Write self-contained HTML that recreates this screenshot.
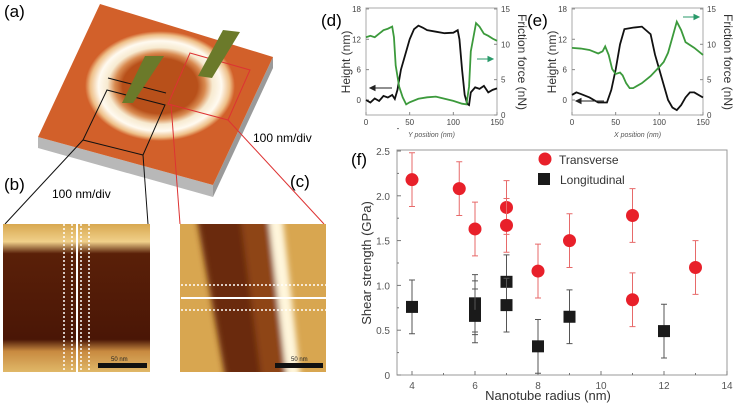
<!DOCTYPE html>
<html><head><meta charset="utf-8">
<style>
html,body{margin:0;padding:0;background:#fff;}
svg{display:block;font-family:"Liberation Sans",sans-serif;}
</style></head>
<body>
<svg id="fig" width="738" height="403" viewBox="0 0 738 403">
<defs>
<radialGradient id="ringG" cx="0.5" cy="0.5" r="0.5">
<stop offset="0.5" stop-color="#b8501a"/>
<stop offset="0.6" stop-color="#d88a50"/>
<stop offset="0.7" stop-color="#f7ead0"/>
<stop offset="0.82" stop-color="#fffaf0"/>
<stop offset="0.93" stop-color="#eebf88"/>
<stop offset="1" stop-color="#d2602a"/>
</radialGradient>
<linearGradient id="bandB" x1="0" y1="0" x2="0" y2="1">
<stop offset="0" stop-color="#d8a850"/><stop offset="0.12" stop-color="#f0d08a"/>
<stop offset="0.2" stop-color="#5a2008"/><stop offset="0.78" stop-color="#4a1606"/>
<stop offset="0.86" stop-color="#c88a40"/><stop offset="1" stop-color="#e0b868"/>
</linearGradient>
<clipPath id="clipC"><rect x="180" y="224" width="146" height="148"/></clipPath>
<filter id="blurC" x="-10%" y="-10%" width="120%" height="120%"><feGaussianBlur stdDeviation="3"/></filter>
</defs>

<!-- panel a -->
<g>
<text x="4" y="17" font-size="17">(a)</text>
<polygon points="38,137 213,185 213,197 38,148" fill="#b8b8b8"/>
<polygon points="213,185 273,57 273,68 213,197" fill="#9a9a9a"/>
<polygon points="100,4 273,57 213,185 38,137" fill="#d2602a"/>
<ellipse cx="160" cy="86" rx="75" ry="55" fill="url(#ringG)"/>
<polygon points="107,90 165,105 143,155 83,140" fill="none" stroke="#111" stroke-width="1"/>
<line x1="83" y1="140" x2="5" y2="224" stroke="#111" stroke-width="1"/>
<line x1="143" y1="155" x2="148" y2="224" stroke="#111" stroke-width="1"/>
<polygon points="190,53 250,70 228,120 168,104" fill="none" stroke="#d33" stroke-width="1"/>
<line x1="171" y1="104" x2="180" y2="224" stroke="#d33" stroke-width="1"/>
<line x1="228" y1="120" x2="324" y2="224" stroke="#d33" stroke-width="1"/>
<line x1="108" y1="78" x2="166" y2="93" stroke="#111" stroke-width="1"/>
<polygon points="145,56 164,56 133,103 122,103" fill="#6b7a2a"/>
<polygon points="223,30 240,32 212,78 198,76" fill="#6b7a2a"/>
<text x="52" y="198" font-size="12">100 nm/div</text>
<text x="253" y="142" font-size="12">100 nm/div</text>
<text x="4" y="190" font-size="17">(b)</text>
<text x="290" y="187" font-size="17">(c)</text>
</g>

<!-- panel b -->
<g>
<rect x="3" y="224" width="147" height="148" fill="url(#bandB)"/>
<line x1="64" y1="224" x2="64" y2="372" stroke="#fff" stroke-width="1.5" stroke-dasharray="2,2"/>
<line x1="72" y1="224" x2="72" y2="372" stroke="#fff" stroke-width="1.5" stroke-dasharray="2,2"/>
<line x1="77" y1="224" x2="77" y2="372" stroke="#fff" stroke-width="2"/>
<line x1="81" y1="224" x2="81" y2="372" stroke="#fff" stroke-width="1.5" stroke-dasharray="2,2"/>
<line x1="89" y1="224" x2="89" y2="372" stroke="#fff" stroke-width="1.5" stroke-dasharray="2,2"/>
<rect x="98" y="363" width="49" height="5" fill="#111"/>
<text x="111" y="361" font-size="6" fill="#222">50 nm</text>
</g>

<!-- panel c -->
<g>
<g clip-path="url(#clipC)">
<rect x="180" y="224" width="146" height="148" fill="#d8a650"/>
<g filter="url(#blurC)">
<polygon points="196,214 272,214 290,382 226,382" fill="#6a2a0c"/>
<polygon points="240,214 272,214 290,382 262,382" fill="#8e4418"/>
<polygon points="268,214 282,214 301,382 287,382" fill="#fff6dc"/>
</g>
</g>
<line x1="181" y1="285" x2="326" y2="285" stroke="#fff" stroke-width="1.5" stroke-dasharray="2,2"/>
<line x1="181" y1="298" x2="326" y2="298" stroke="#fff" stroke-width="2"/>
<line x1="181" y1="310" x2="326" y2="310" stroke="#fff" stroke-width="1.5" stroke-dasharray="2,2"/>
<rect x="275" y="363" width="48" height="5" fill="#111"/>
<text x="291" y="361" font-size="6" fill="#222">50 nm</text>
</g>

<g id="gd"></g>
<g id="ge"></g>
<g id="gf"></g>
</svg>

<script>
// panel f data
const transRadius = [4, 5.5, 6, 7, 7, 8, 9, 11, 11, 13];
const transStrength = [2.18, 2.08, 1.63, 1.87, 1.67, 1.16, 1.50, 1.78, 0.84, 1.20];
const transErr = [0.3, 0.3, 0.3, 0.3, 0.3, 0.3, 0.3, 0.3, 0.3, 0.3];
const longRadius = [4, 6, 6, 6, 7, 7, 8, 9, 12];
const longStrength = [0.76, 0.80, 0.75, 0.66, 1.04, 0.78, 0.32, 0.65, 0.49];
const longErr = [0.3, 0.32, 0.3, 0.3, 0.3, 0.3, 0.3, 0.3, 0.3];
const fYTicks = ["0", "0.5", "1.0", "1.5", "2.0", "2.5"];
const fXTicks = ["4", "6", "8", "10", "12", "14"];
// panel d data
const dHeightX = [0,5,10,15,20,25,30,33,36,40,45,50,55,60,65,70,80,90,100,105,107,110,113,116,118,120,125,130,135,140,145,150];
const dHeightY = [0,-0.5,0.3,-0.2,0.8,0.5,1,0.2,2,6,9,12,14,14.7,14.3,13.8,13.5,13.2,13.3,13.8,12,6,1,-0.8,-1,1.5,2.5,2.2,2.8,1.5,2,2.3];
const dFricX = [0,5,10,15,20,25,30,32,34,38,42,46,50,60,70,80,90,100,110,115,118,120,123,126,130,135,140,145,150];
const dFricY = [11,11.2,11,11.5,12,12.2,12.5,11,7,4,2.5,1.5,1.8,2.3,2.5,2.6,2.3,2.0,1.6,1.5,4,9,11,13,12.5,11.5,11.2,10.8,10.5];
// panel e data
const eHeightX = [0,5,10,20,30,40,45,50,55,60,70,80,90,95,100,105,110,115,120,125,130,135,140,150];
const eHeightY = [1,1.5,1.2,0.5,-0.5,-0.5,2,6,11,14,14.3,14.5,13,9,6,3,0,-1.5,-2,-1,0.5,1.5,1.5,0.5];
const eFricX = [0,10,20,30,35,38,42,46,50,55,58,62,66,70,80,90,100,105,110,115,120,125,130,140,150];
const eFricY = [9.5,9.4,9.2,8.7,9,9.7,8.5,6.5,5.8,6,5.6,4.5,3.8,3.8,4.5,5.5,6.8,7.5,8.8,11,13.2,12,10.3,9.5,8.5];
const dHeightTicks = ["0","6","12","18"];
const dFricTicks = ["0","5","10","15"];
const dXTicks = ["0","50","100","150"];

const NS = "http://www.w3.org/2000/svg";
function mk(parent, tag, attrs, text) {
  const el = document.createElementNS(NS, tag);
  for (const k in attrs) el.setAttribute(k, attrs[k]);
  if (text !== undefined) el.textContent = text;
  parent.appendChild(el);
  return el;
}

// ---- panel f
(function(){
  const g = document.getElementById('gf');
  const L = 397, R = 727, T = 150, B = 375;
  const fx = r => 412 + (r - 4) * 31.5;
  const fy = v => B - v * 89.6;
  const t = mk(g, 'text', {x: 351, y: 165, 'font-size': 17}, '(f)');
  
  
  const box = mk(g, 'rect', {x: L, y: T, width: R - L, height: B - T, fill: 'none', stroke: '#999', 'stroke-width': 1});
  
  
  fYTicks.forEach((lab) => {
    const y = fy(parseFloat(lab));
    mk(g, 'line', {x1: L, x2: L + 4, y1: y, y2: y, stroke: '#777'});
    mk(g, 'line', {x1: L, x2: L + 2, y1: fy(parseFloat(lab) + 0.25), y2: fy(parseFloat(lab) + 0.25), stroke: '#777'});
    const tl = mk(g, 'text', {x: 390, y: y + 4, 'font-size': 10, 'text-anchor': 'end', fill: '#555'}, lab);
    
    
  });
  fXTicks.forEach((lab) => {
    const x = fx(parseFloat(lab));
    mk(g, 'line', {x1: x, x2: x, y1: B, y2: B - 4, stroke: '#777'});
    mk(g, 'line', {x1: fx(parseFloat(lab) + 1), x2: fx(parseFloat(lab) + 1), y1: B, y2: B - 2, stroke: '#777'});
    const tl = mk(g, 'text', {x: x, y: 389, 'font-size': 10, 'text-anchor': 'middle', fill: '#555'}, lab);
    
    
  });
  const yt = mk(g, 'text', {x: 0, y: 0, 'font-size': 13, 'text-anchor': 'middle', fill: '#333', transform: 'translate(371,263) rotate(-90)'}, 'Shear strength (GPa)');
  
  
  const xt = mk(g, 'text', {x: 548, y: 400, 'font-size': 13, 'text-anchor': 'middle', fill: '#333'}, 'Nanotube radius (nm)');
  
  
  longRadius.forEach((r, i) => {
    const x = fx(r), v = longStrength[i], e = longErr[i];
    const eb = mk(g, 'path', {d: `M${x},${fy(v - e)}V${fy(v + e)}M${x - 3},${fy(v - e)}h6M${x - 3},${fy(v + e)}h6`, stroke: '#555', 'stroke-width': 1, fill: 'none'});
    
    
    const s = mk(g, 'rect', {x: x - 6, y: fy(v) - 6, width: 12, height: 12, fill: '#1a1a1a'});
    
    
  });
  transRadius.forEach((r, i) => {
    const x = fx(r), v = transStrength[i], e = transErr[i];
    const eb = mk(g, 'path', {d: `M${x},${fy(v - e)}V${fy(v + e)}M${x - 3},${fy(v - e)}h6M${x - 3},${fy(v + e)}h6`, stroke: '#e76a6a', 'stroke-width': 1, fill: 'none'});
    
    
    const c = mk(g, 'circle', {cx: x, cy: fy(v), r: 6.5, fill: '#e8202a'});
    
    
  });
  const l1 = mk(g, 'circle', {cx: 545, cy: 159, r: 6.5, fill: '#e8202a'});
  
  
  const l1t = mk(g, 'text', {x: 559, y: 164, 'font-size': 12, fill: '#333'}, 'Transverse');
  
  
  const l2 = mk(g, 'rect', {x: 538, y: 173, width: 12, height: 12, fill: '#1a1a1a'});
  
  
  const l2t = mk(g, 'text', {x: 560, y: 184, 'font-size': 12, fill: '#333'}, 'Longitudinal');
  
  
})();

// ---- panels d & e
function profile(gid, L, label, xTitle, hx, hy, fxs, fys, arrows) {
  const g = document.getElementById(gid);
  const R = L + 131, T = 8, B = 115;
  const sx = x => L + x * 131 / 150;
  const hyS = h => 100 - h * 5.06;
  const fyS = f => B - f * 7.07;
  const lab = mk(g, 'text', {x: L - 45, y: 26, 'font-size': 17}, label);
  
  
  const box = mk(g, 'rect', {x: L, y: T, width: R - L, height: B - T, fill: 'none', stroke: '#aaa'});
  
  
  dHeightTicks.forEach(tk => {
    const y = hyS(parseFloat(tk));
    mk(g, 'line', {x1: L, x2: L + 3, y1: y, y2: y, stroke: '#888'});
    const t = mk(g, 'text', {x: L - 5, y: y + 3, 'font-size': 8, 'text-anchor': 'end', fill: '#444'}, tk);
    
    
  });
  dFricTicks.forEach(tk => {
    const y = fyS(parseFloat(tk));
    mk(g, 'line', {x1: R, x2: R - 3, y1: y, y2: y, stroke: '#888'});
    const t = mk(g, 'text', {x: R + 4, y: y + 3, 'font-size': 8, fill: '#444'}, tk);
    
    
  });
  dXTicks.forEach(tk => {
    const x = sx(parseFloat(tk));
    mk(g, 'line', {x1: x, x2: x, y1: B, y2: B - 3, stroke: '#888'});
    const t = mk(g, 'text', {x: x, y: B + 10, 'font-size': 8, 'text-anchor': 'middle', fill: '#444'}, tk);
    
    
  });
  const xt = mk(g, 'text', {x: (L + R) / 2, y: B + 22, 'font-size': 7, 'font-style': 'italic', 'text-anchor': 'middle', fill: '#555'}, xTitle);
  
  
  const yt = mk(g, 'text', {x: 0, y: 0, 'font-size': 12, 'text-anchor': 'middle', fill: '#333', transform: `translate(${L - 16},62) rotate(-90)`}, 'Height (nm)');
  
  
  const yt2 = mk(g, 'text', {x: 0, y: 0, 'font-size': 12, 'text-anchor': 'middle', fill: '#333', transform: `translate(${R + 21},62) rotate(90)`}, 'Friction force (nN)');
  
  
  const hl = mk(g, 'polyline', {points: hx.map((x, i) => sx(x) + ',' + hyS(hy[i])).join(' '), fill: 'none', stroke: '#111', 'stroke-width': 1.8});
  
  
  const fl = mk(g, 'polyline', {points: fxs.map((x, i) => sx(x) + ',' + fyS(fys[i])).join(' '), fill: 'none', stroke: '#3c9a3c', 'stroke-width': 1.8});
  
  
  const a1 = mk(g, 'path', {d: `M${arrows[0]},${arrows[1]}H${L + 4}M${L + 4},${arrows[1]}l5,-2.5v5z`, stroke: '#222', fill: '#222', 'stroke-width': 1});
  
  
  const a2 = mk(g, 'path', {d: `M${arrows[2]},${arrows[3]}H${R - 4}M${R - 4},${arrows[3]}l-5,-2.5v5z`, stroke: '#2a9a6a', fill: '#2a9a6a', 'stroke-width': 1});
  
  
}
profile('gd', 366, '(d)', 'Y position (nm)', dHeightX, dHeightY, dFricX, dFricY, [392, 88, 477, 59]);
profile('ge', 572, '(e)', 'X position (nm)', eHeightX, eHeightY, eFricX, eFricY, [604, 101, 683, 17]);
</script>
</body></html>
